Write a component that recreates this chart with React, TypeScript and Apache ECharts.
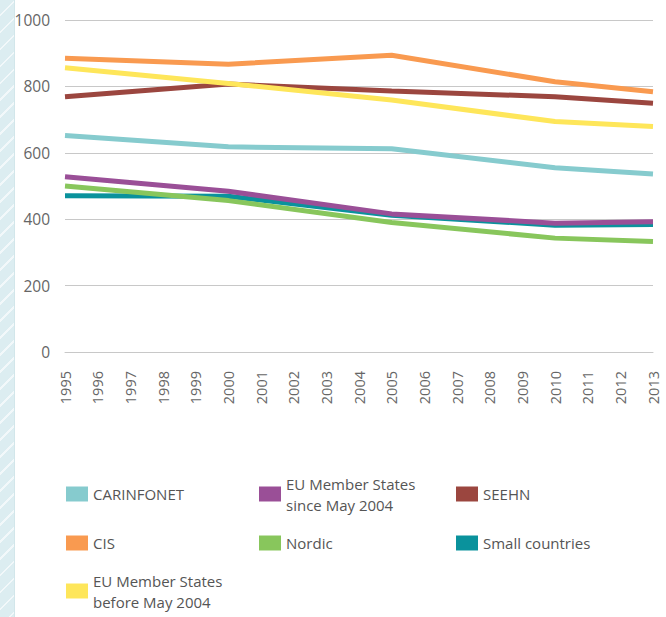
import React, { useEffect, useRef } from "react";
import * as echarts from "echarts";

const years = ["1995","1996","1997","1998","1999","2000","2001","2002","2003","2004","2005","2006","2007","2008","2009","2010","2011","2012","2013"];
const yTicks = [0, 200, 400, 600, 800, 1000];

// values read at 1995, 2000, 2005, 2010 and 2013 (other years not shown as breakpoints)
const carinfonet = [652, null, null, null, null, 618, null, null, null, null, 612, null, null, null, null, 555, null, null, 536];
const euSince = [528, null, null, null, null, 484, null, null, null, null, 416, null, null, null, null, 388, null, null, 392];
const seehn = [769, null, null, null, null, 807, null, null, null, null, 786, null, null, null, null, 769, null, null, 749];
const cis = [885, null, null, null, null, 867, null, null, null, null, 894, null, null, null, null, 814, null, null, 784];
const nordic = [500, null, null, null, null, 456, null, null, null, null, 390, null, null, null, null, 343, null, null, 333];
const small = [471, null, null, null, null, 469, null, null, null, null, 412, null, null, null, null, 382, null, null, 384];
const euBefore = [856, null, null, null, null, 809, null, null, null, null, 759, null, null, null, null, 694, null, null, 679];

const names = [
  "CARINFONET",
  "EU Member States since May 2004",
  "SEEHN",
  "CIS",
  "Nordic",
  "Small countries",
  "EU Member States before May 2004",
];
const colors = ["#86cbce", "#9a4f97", "#9b463f", "#f99a50", "#88c65c", "#0a929c", "#fee65a"];
const values = [carinfonet, euSince, seehn, cis, nordic, small, euBefore];
const drawOrder = [5, 0, 4, 1, 2, 3, 6];

const FONT = "'Open Sans', sans-serif";

export default function App() {
  const ref = useRef<HTMLDivElement>(null);
  useEffect(() => {
    if (!ref.current) return;
    const chart = echarts.init(ref.current, undefined, { renderer: "svg" });
    const legendPos: { left: number; top: number; two?: boolean }[] = [
      { left: 66, top: 483.5 },
      { left: 259, top: 462.5, two: true },
      { left: 456, top: 483.5 },
      { left: 66, top: 532.5 },
      { left: 259, top: 532.5 },
      { left: 456, top: 532.5 },
      { left: 66, top: 559.5, two: true },
    ];
    const legends = names.map((n, i) => {
      const p = legendPos[i];
      return {
        data: [n],
        left: p.left,
        top: p.top,
        orient: "vertical",
        padding: 0,
        itemWidth: 22,
        itemHeight: 15,
        itemGap: 5,
        icon: "rect",
        selectedMode: false,
        formatter: (name: string) =>
          name.replace(" since", "\nsince").replace(" before", "\nbefore"),
        textStyle: {
          fontFamily: FONT,
          fontSize: 15,
          color: "#555",
          lineHeight: 21,
          padding: p.two ? [21, 0, 0, 0] : 0,
        },
      };
    });
    chart.setOption({
      animation: false,
      color: colors,
      grid: { left: 65, right: 13, top: 20, bottom: 265, containLabel: false },
      xAxis: {
        type: "category",
        data: years,
        boundaryGap: false,
        axisLine: { show: true, lineStyle: { color: "#c8c8c8", width: 1 } },
        axisTick: { show: false },
        axisLabel: {
          rotate: 90,
          margin: 19,
          interval: 0,
          color: "#666",
          fontFamily: FONT,
          fontSize: 14.5,
        },
      },
      yAxis: {
        type: "value",
        min: yTicks[0],
        max: yTicks[yTicks.length - 1],
        interval: 200,
        axisLine: { show: false },
        axisTick: { show: false },
        splitLine: { lineStyle: { color: "#c8c8c8", width: 1 } },
        axisLabel: {
          margin: 15,
          color: "#666",
          fontFamily: FONT,
          fontSize: 15.5,
          formatter: (v: number) => String(v),
        },
      },
      legend: legends,
      series: drawOrder.map((i) => ({
        name: names[i],
        type: "line",
        data: values[i],
        connectNulls: true,
        showSymbol: false,
        symbol: "none",
        color: colors[i],
        lineStyle: { width: 5, color: colors[i] },
        z: 2 + drawOrder.indexOf(i),
      })),
    });
    return () => chart.dispose();
  }, []);
  return (
    <div style={{ position: "absolute", left: 0, top: 0, width: 666, height: 617, background: "#fff" }}>
      <div
        style={{
          position: "absolute",
          left: 0,
          top: 0,
          width: 14,
          height: 617,
          background:
            "repeating-linear-gradient(135deg, #dcedf1 0px, #dcedf1 10px, #f2f8fa 10px, #f2f8fa 12px)",
          borderRight: "1px solid #d2e6ea",
        }}
      />
      <div ref={ref} style={{ position: "absolute", left: 0, top: 0, width: 666, height: 617 }} />
    </div>
  );
}
